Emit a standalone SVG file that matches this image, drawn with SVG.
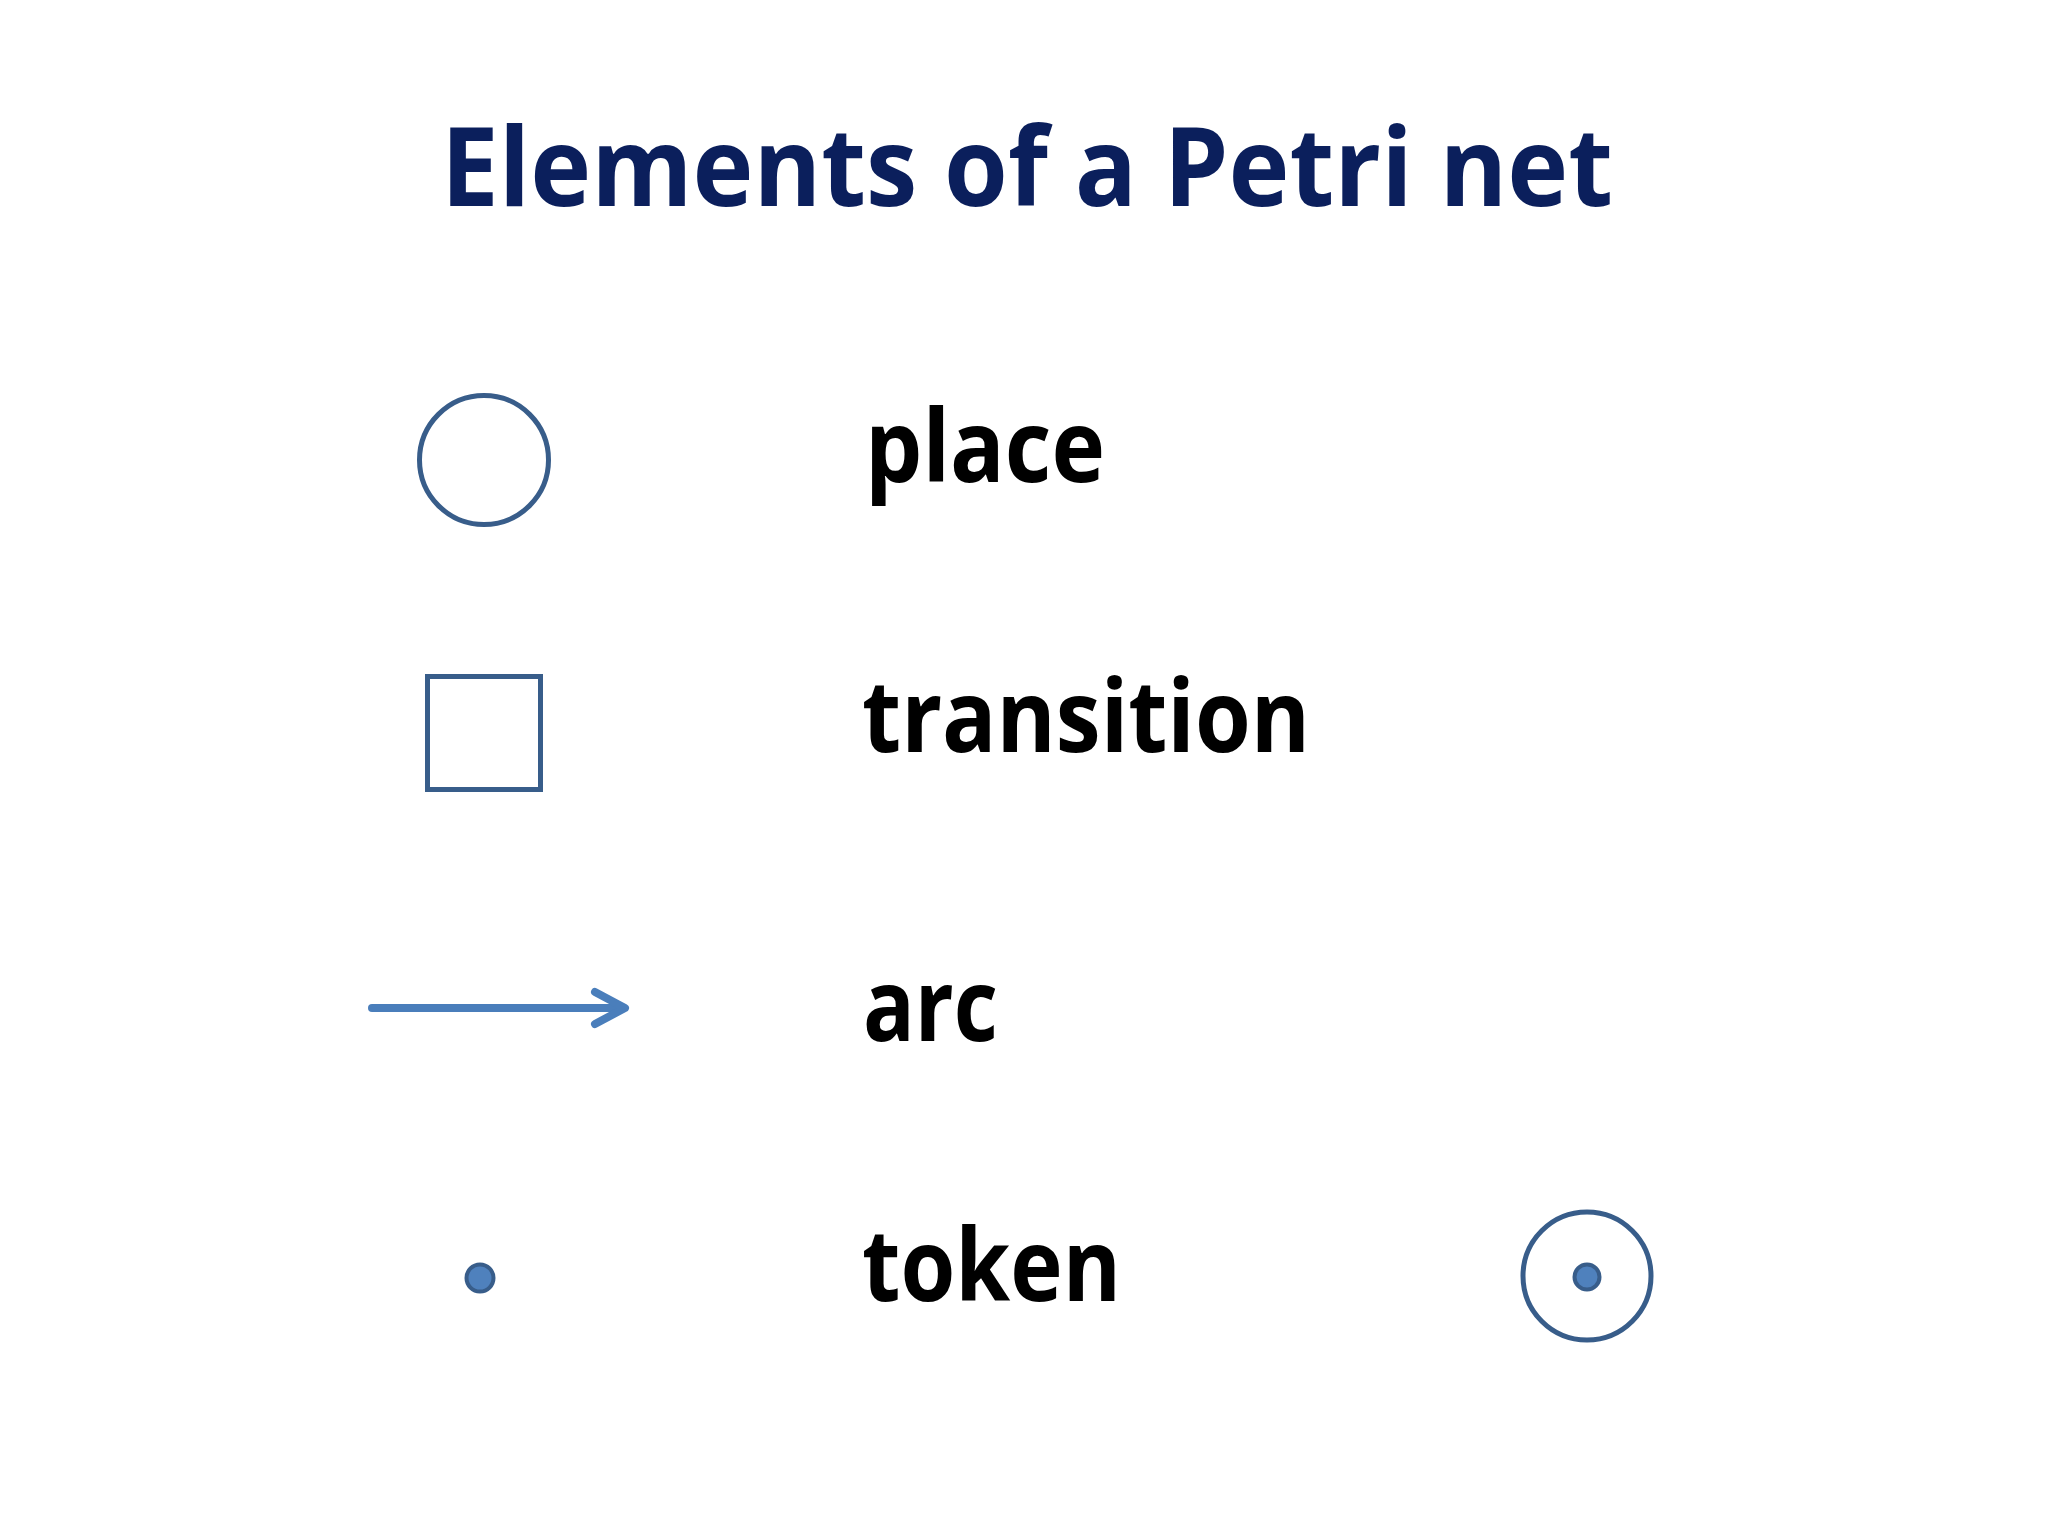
<svg xmlns="http://www.w3.org/2000/svg" width="2048" height="1536" viewBox="0 0 2048 1536">
<style>
.title{font-family:"Open Sans","Liberation Sans",sans-serif;font-weight:bold;font-size:110px;fill:#0B1F5C}
.lbl{font-family:"Open Sans","Liberation Sans",sans-serif;font-weight:bold;font-size:100px;fill:#000}
.shape{fill:#fff;stroke:#385D8A;stroke-width:5}
.dot{fill:#4F81BD;stroke:#385D8A;stroke-width:4}
.arc{fill:none;stroke:#4A7EBB;stroke-width:8;stroke-linecap:round;stroke-linejoin:round}
</style>
<rect width="2048" height="1536" fill="#fff"/>
<text id="title" class="title" x="441" y="206" textLength="1172" lengthAdjust="spacingAndGlyphs">Elements of a Petri net</text>
<g id="place">
<circle class="shape" cx="484" cy="460" r="64.5"/>
<text class="lbl" x="865" y="482" textLength="240" lengthAdjust="spacingAndGlyphs">place</text>
</g>
<g id="transition">
<rect class="shape" x="427.5" y="676.5" width="113" height="113"/>
<text class="lbl" x="862" y="752" textLength="448" lengthAdjust="spacingAndGlyphs">transition</text>
</g>
<g id="connectors">
<line class="arc" x1="372" y1="1008" x2="622" y2="1008" stroke-linecap="butt"/>
<polyline class="arc" points="595,992 625,1008 595,1024"/>
</g>
<g id="arc">
<text class="lbl" x="863" y="1041" textLength="135" lengthAdjust="spacingAndGlyphs">arc</text>
</g>
<g id="token">
<circle class="dot" cx="480" cy="1278" r="13.5"/>
<text class="lbl" x="862" y="1301" textLength="259" lengthAdjust="spacingAndGlyphs">token</text>
</g>
<g id="marked-place">
<circle class="shape" cx="1587" cy="1276" r="64"/>
<circle class="dot" cx="1587" cy="1277" r="12.5"/>
</g>
</svg>
